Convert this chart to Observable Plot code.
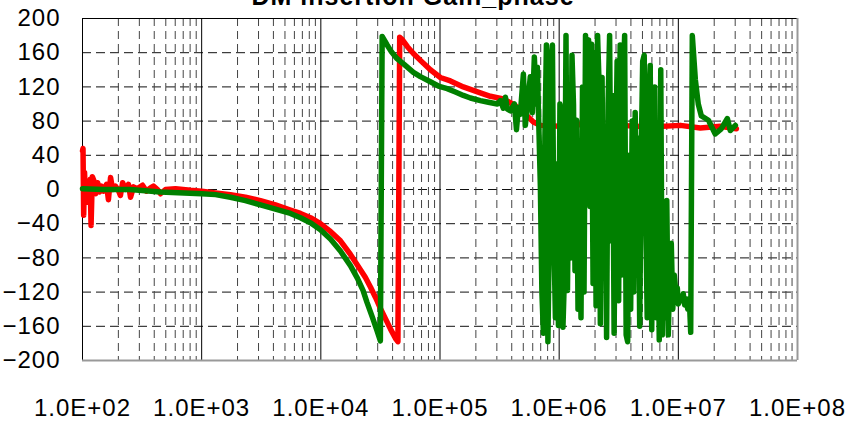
<!DOCTYPE html>
<html><head><meta charset="utf-8">
<script src="https://cdn.jsdelivr.net/npm/d3@7"></script>
<script src="https://cdn.jsdelivr.net/npm/@observablehq/plot@0.6"></script>
<style>html,body{margin:0;padding:0;background:#fff;overflow:hidden}</style>
</head><body><div id="chart"></div>
<script>
const title = "DM insertion Gain_phase";

// [frequency (Hz), phase (deg)]
const redSeries = [
  [100,45],[101,48],[102.3,-30],[104,20],[106,-10],[109,5],[112,-15],[116,12],[118,-42],[121,15],
  [125,10],[129,-5],[134,8],[139,-3],[144,4],[150,-2],[159,6],[165,-12],[172,14],[179,0],
  [189,4],[200,-1],[208,-7],[217,8],[229,0],[243,6],[253,-9],[268,3],[289,1],[319,5],
  [344,-2],[372,2],[394,4],[426,0],[451,-5],[497,0],[603,1],[805,-1],[1000,-2],[1306,-4],
  [1744,-6],[2330,-9],[3114,-13],[4160,-18],[5560,-24],[6745,-28],[8180,-33],[9920,-40],
  [12040,-49],[14600,-60],[17720,-76],[21490,-94],[23670,-103],[26070,-114],[28710,-126],
  [31620,-139],[34840,-151],[38370,-163],[42250,-174],[44350,-178],[45900,178],[48400,175],
  [53280,167],[59800,159],[68470,151],[83000,140],[100700,131],[122300,127],[157000,120],
  [218000,113],[264800,109],[340000,106],[430000,98],[520000,88],[608000,79],[695000,75],
  [1.02e6,74],[1.51e6,76],[2.22e6,73],[3.26e6,75],[5.82e6,73],[1.04e7,75],[1.53e7,72],
  [2.25e7,74],[3.07e7,71]
];

const greenSeries = [
  [100,1],[150,0],[250,0],[450,-3],[1000,-5],[1306,-6],[1744,-9],[2330,-13],[3114,-18],
  [4160,-23],[5560,-28],[6745,-33],[8180,-39],[9920,-47],[12040,-58],[14600,-72],[17720,-89],
  [20300,-104],[22600,-118],[24400,-132],[27000,-149],[29600,-165],[31600,-177],[32700,179],
  [36000,169],[39120,161],[43600,153],[50270,146],[59800,137],[68470,132],[83000,126],
  [96960,121],[115000,118],[134700,114],[157000,110],[179900,107],[218000,104],[254700,102],
  [303000,100],[321000,104],[340000,95],[354000,108],[368000,94],[390000,92],[421000,100],
  [438000,70],[455000,96],[472000,88],[501000,135],[520000,75],[552000,110],[573000,132],
  [596000,90],[619000,155],[644000,100],[656000,143],
  [695600,3],[716200,-120],[737300,-168],[759100,60],[781500,169],[804500,-178],[828300,-40],
  [852700,150],[877800,169],[903700,-60],[930400,-150],[957800,30],[986000,-159],[1.015e6,100],
  [1.045e6,84],[1.076e6,-161],[1.108e6,-100],[1.141e6,180],[1.174e6,-118],[1.209e6,60],
  [1.245e6,-80],[1.281e6,157],[1.319e6,100],[1.358e6,-95],[1.398e6,81],[1.439e6,-140],
  [1.482e6,20],[1.525e6,-150],[1.570e6,120],[1.617e6,-120],[1.664e6,180],[1.713e6,90],
  [1.764e6,175],[1.816e6,-20],[1.869e6,170],[1.925e6,-110],[1.981e6,160],[2.040e6,-136],
  [2.100e6,180],[2.162e6,124],[2.216e6,-157],[2.291e6,131],[2.359e6,-90],[2.428e6,60],
  [2.500e6,-173],[2.574e6,100],[2.650e6,180],[2.728e6,-60],[2.808e6,110],[2.891e6,-168],
  [2.976e6,20],[3.064e6,150],[3.155e6,-130],[3.248e6,169],[3.344e6,-100],[3.442e6,120],
  [3.544e6,180],[3.648e6,-170],[3.756e6,-178],[3.867e6,40],[3.981e6,-140],[4.098e6,80],
  [4.219e6,-120],[4.344e6,90],[4.472e6,-60],[4.604e6,60],[4.740e6,-160],[4.879e6,40],
  [5.023e6,150],[5.172e6,157],[5.324e6,-30],[5.481e6,-150],[5.643e6,100],[5.809e6,145],
  [5.981e6,-164],[6.157e6,60],[6.339e6,120],[6.526e6,-150],[6.718e6,20],[6.916e6,-176],
  [7.120e6,140],[7.330e6,-170],[7.546e6,-60],[7.769e6,-150],[7.998e6,-13],[8.234e6,-170],
  [8.477e6,-90],[8.727e6,-63],[8.984e6,-140],[9.249e6,-100],[9.522e6,-120],[9.803e6,-115],
  [1.0e7,-134],[1.03e7,-125],[1.07e7,-130],[1.10e7,-122],[1.13e7,-135],[1.17e7,-128],
  [1.20e7,-140],[1.24e7,-132],[1.27e7,-167],[1.31e7,180],[1.39e7,128],[1.47e7,100],
  [1.56e7,86],[1.79e7,81],[2.04e7,65],[2.29e7,71],[2.58e7,83],[2.73e7,69],[3.01e7,75]
];

const yTicks = [-200,-160,-120,-80,-40,0,40,80,120,160,200];
const xTicks = [1e2,1e3,1e4,1e5,1e6,1e7,1e8];
const xTickLabels = ["1.0E+02","1.0E+03","1.0E+04","1.0E+05","1.0E+06","1.0E+07","1.0E+08"];
const minorMultipliers = [2,3,4,5,6,7,8,9];

const red = redSeries.map(([f, v]) => ({f, v}));
const green = greenSeries.map(([f, v]) => ({f, v}));
const minorX = xTicks.slice(0, -1).flatMap(d => minorMultipliers.map(k => k * d));
const gridY = yTicks.slice(1, -1);
const majorX = xTicks.slice(1, -1);

const chart = Plot.plot({
  width: 845, height: 422,
  marginLeft: 82, marginRight: 48, marginTop: 18, marginBottom: 62,
  style: {fontFamily: "'Liberation Sans', Arial, sans-serif", fontSize: "24px", letterSpacing: "1px", color: "#000", background: "#fff", overflow: "visible"},
  x: {type: "log", domain: [1e2, 1e8]},
  y: {domain: [-200, 200]},
  marks: [
    Plot.ruleY(gridY, {stroke: "#111", strokeDasharray: "9,5", strokeWidth: 1}),
    Plot.ruleX(minorX, {stroke: "#444", strokeDasharray: "8,5", strokeWidth: 1}),
    Plot.ruleX(majorX, {stroke: "#000", strokeWidth: 1}),
    Plot.ruleY([200], {stroke: "#000", strokeWidth: 1}),
    Plot.ruleX([1e2], {stroke: "#000", strokeWidth: 1}),
    Plot.ruleY([-200], {stroke: "#999", strokeWidth: 2}),
    Plot.ruleX([1e8], {stroke: "#999", strokeWidth: 2}),
    Plot.line(red, {x: "f", y: "v", stroke: "#ff0000", strokeWidth: 5.5, strokeLinejoin: "round", strokeLinecap: "round"}),
    Plot.line(green, {x: "f", y: "v", stroke: "#008000", strokeWidth: 5.5, strokeLinejoin: "round", strokeLinecap: "round"}),
    Plot.axisY({ticks: yTicks, tickSize: 0, tickPadding: 22, label: null, fontSize: 24}),
    Plot.axisX({ticks: xTicks, tickSize: 0, tickPadding: 38, label: null, fontSize: 24,
      tickFormat: d => xTickLabels[Math.round(Math.log10(d)) - 2]}),
    Plot.text([title], {frameAnchor: "top", dx: -27, dy: -14, lineAnchor: "bottom", fontWeight: "bold", fontSize: 25})
  ]
});
document.getElementById("chart").append(chart);
</script>
</body></html>
